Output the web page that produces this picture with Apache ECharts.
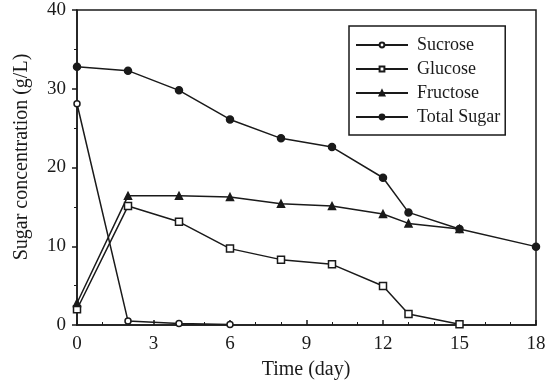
<!DOCTYPE html>
<html><head><meta charset="utf-8">
<script src="https://cdn.jsdelivr.net/npm/echarts@6/dist/echarts.min.js"></script>
<style>html,body{margin:0;padding:0;background:#fff}#c{width:556px;height:385px}</style>
</head><body><div id="c"></div>
<script>
const days = [0, 2, 4, 6, 8, 10, 12, 13, 15, 18];
const sucrose = [28.1, 0.5, 0.2, 0.05];
const sucroseDays = [0, 2, 4, 6];
const glucose = [2.0, 15.1, 13.1, 9.7, 8.3, 7.7, 4.95, 1.4, 0.1];
const fructose = [2.8, 16.4, 16.4, 16.25, 15.4, 15.1, 14.1, 12.9, 12.2];
const totalSugar = [32.8, 32.3, 29.8, 26.1, 23.7, 22.6, 18.7, 14.3, 12.2, 9.95];
const xTicks = [0, 3, 6, 9, 12, 15, 18];
const yTicks = [0, 10, 20, 30, 40];

const pair = (xs, ys) => ys.map((v, i) => [xs[i], v]);
const col = '#1a1a1a';
const font = 'Liberation Serif';
function mk(name, data, symbol, size, filled) {
  return {
    name, type: 'line', data, symbol, symbolSize: size,
    lineStyle: {color: col, width: 1.5},
    itemStyle: {color: filled ? col : '#fff', borderColor: col, borderWidth: 1.5},
    emphasis: {disabled: true}
  };
}
const chart = echarts.init(document.getElementById('c'));
chart.setOption({
  animation: false,
  backgroundColor: '#fff',
  grid: {left: 77, right: 20, top: 10, bottom: 60, show: true, borderColor: col, borderWidth: 1.5},
  legend: {
    orient: 'vertical', left: 349, top: 26, itemWidth: 52, itemHeight: 6, itemGap: 6,
    borderColor: col, borderWidth: 1.5, padding: [10, 5, 9, 6],
    textStyle: {fontFamily: font, fontSize: 18, color: col, padding: [0, 0, 0, 4]},
    data: ['Sucrose', 'Glucose', 'Fructose', 'Total Sugar']
  },
  graphic: [
    {type: 'text', x: 306, y: 370, style: {text: 'Time (day)', font: '20px "Liberation Serif"', fill: col, align: 'center', verticalAlign: 'middle'}},
    {type: 'text', x: 22, y: 157, rotation: Math.PI / 2, style: {text: 'Sugar concentration (g/L)', font: '20px "Liberation Serif"', fill: col, align: 'center', verticalAlign: 'middle'}}
  ],
  xAxis: {
    type: 'value', min: 0, max: 18, interval: 3,
    axisLine: {lineStyle: {color: col, width: 1.5}},
    axisTick: {inside: true, length: 5, lineStyle: {color: col, width: 1.5}},
    minorTick: {show: true, splitNumber: 3, length: 3, lineStyle: {color: col}},
    axisLabel: {fontFamily: font, fontSize: 19, color: col, margin: 10, customValues: xTicks},
    splitLine: {show: false}
  },
  yAxis: {
    type: 'value', min: 0, max: 40, interval: 10,
    axisLine: {lineStyle: {color: col, width: 1.5}},
    axisTick: {length: 5, lineStyle: {color: col, width: 1.5}},
    minorTick: {show: true, splitNumber: 2, length: 3, lineStyle: {color: col}},
    axisLabel: {fontFamily: font, fontSize: 19, color: col, margin: 11, customValues: yTicks},
    splitLine: {show: false}
  },
  series: [
    mk('Sucrose', pair(sucroseDays, sucrose), 'circle', 6, false),
    mk('Glucose', pair(days, glucose), 'rect', 7, false),
    mk('Fructose', pair(days, fructose), 'triangle', 7, true),
    mk('Total Sugar', pair(days, totalSugar), 'circle', 7, true)
  ]
});
</script></body></html>
